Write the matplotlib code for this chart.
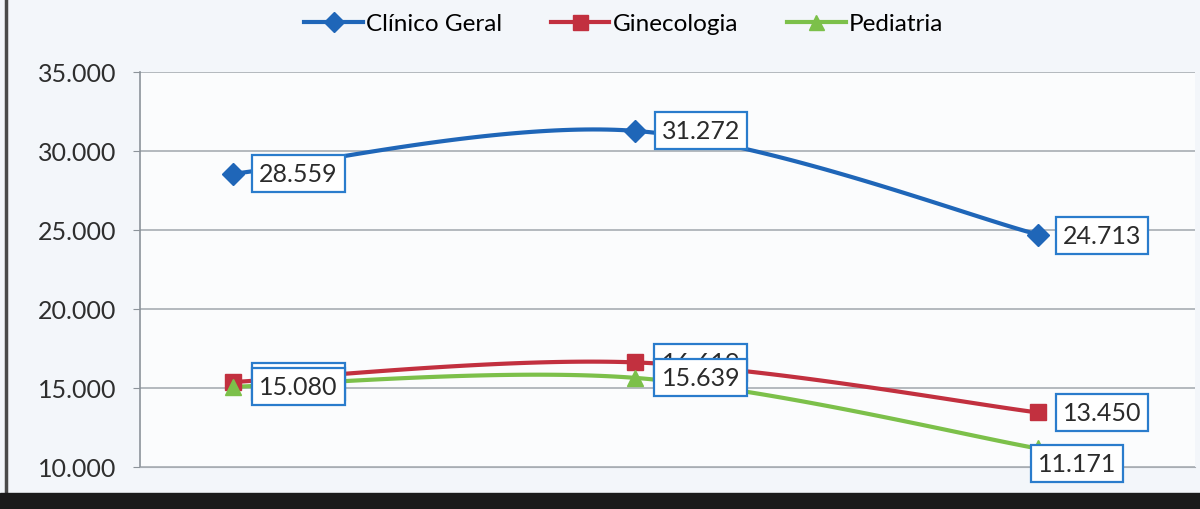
import numpy as np
import matplotlib
matplotlib.use("Agg")
import matplotlib.pyplot as plt
from matplotlib.ticker import FuncFormatter
from matplotlib.patches import Rectangle
from matplotlib.lines import Line2D

plt.rcParams['font.family'] = ['Lato', 'DejaVu Sans']

# data
categories = ["2007", "2008", "2009"]
clinico = [28559, 31272, 24713]
gineco = [15380, 16619, 13450]
pediatria = [15080, 15639, 11171]

series_names = ["Clínico Geral", "Ginecologia", "Pediatria"]
colors = ["#1f66b8", "#c2303f", "#7cc04a"]
markers = ["D", "s", "^"]
msizes = [11, 12, 12]

box_color = "#2a7ccc"


def smooth(y, n=60):
    # excel style smoothed line (catmull-rom bezier)
    x = np.arange(len(y), dtype=float)
    pts = np.column_stack([x, np.asarray(y, dtype=float)])
    out = []
    for i in range(len(pts) - 1):
        p0 = pts[max(i - 1, 0)]
        p1 = pts[i]
        p2 = pts[i + 1]
        p3 = pts[min(i + 2, len(pts) - 1)]
        c1 = p1 + (p2 - p0) / 6.0
        c2 = p2 - (p3 - p1) / 6.0
        t = np.linspace(0, 1, n)[:, None]
        seg = ((1 - t) ** 3) * p1 + 3 * ((1 - t) ** 2) * t * c1 + 3 * (1 - t) * t ** 2 * c2 + t ** 3 * p2
        out.append(seg)
    seg = np.vstack(out)
    return seg[:, 0], seg[:, 1]


fig = plt.figure(figsize=(12, 5.1), dpi=100, facecolor="#f3f6fa")
ax = fig.add_axes([140 / 1200, 42 / 510, 1055 / 1200, 395 / 510])
ax.set_facecolor("#fbfcfd")

all_series = [clinico, gineco, pediatria]
handles = []
for vals, name, c, m, ms in zip(all_series, series_names, colors, markers, msizes):
    sx, sy = smooth(vals)
    ax.plot(sx, sy, color=c, lw=3, solid_capstyle="round", zorder=3)
    ax.plot(range(len(vals)), vals, ls="none", marker=m, ms=ms, color=c, zorder=4)
    handles.append(Line2D([0], [0], color=c, lw=3, marker=m, ms=ms * 0.9))

# data labels (offsets in points from each point)
offsets = {
    0: [(47, 0), (47, 0), (46, -1)],
    1: [(47, 0), (47, 0), (46, 0)],
    2: [(47, 0), (47, 0), (28, -11)],
}
for si, vals in enumerate(all_series):
    for i, v in enumerate(vals):
        txt = f"{v:,}".replace(",", ".")
        ax.annotate(txt, (i, v), xytext=offsets[si][i], textcoords="offset points",
                    ha="center", va="center", fontsize=18, color="#2b2b2b",
                    bbox=dict(boxstyle="square,pad=0.28", fc="white", ec=box_color, lw=1.6),
                    zorder=5 + si)

ax.set_xlim(-0.231, 2.39)
ax.set_ylim(10000, 35000)
ax.set_yticks(np.arange(10000, 35001, 5000))
ax.yaxis.set_major_formatter(FuncFormatter(lambda v, p: f"{int(v):,}".replace(",", ".")))
ax.set_xticks([])
ax.grid(axis="y", color="#a8adb3", lw=1.2)
ax.set_axisbelow(True)
for s in ["top", "right"]:
    ax.spines[s].set_visible(False)
ax.spines["left"].set_color("#8c939a")
ax.spines["bottom"].set_color("#a8adb3")
ax.spines["left"].set_linewidth(1.2)
ax.tick_params(axis="y", labelsize=18, colors="#8c939a", labelcolor="#2e2e2e", length=5, pad=12)

fig.legend(handles, series_names, loc="upper center", bbox_to_anchor=(0.52, 1.015), ncol=3,
           frameon=False, fontsize=17.5, handlelength=2.4, columnspacing=2.0, handletextpad=0.15)

# scan border
fig.add_artist(Rectangle((0, 0), 1, 16 / 510, transform=fig.transFigure, color="#1b1b1b", zorder=10))
fig.add_artist(Line2D([6 / 1200, 6 / 1200], [0, 1], transform=fig.transFigure, color="#4a4a4a", lw=2.5))

fig.savefig("out.png", dpi=100, facecolor=fig.get_facecolor())
